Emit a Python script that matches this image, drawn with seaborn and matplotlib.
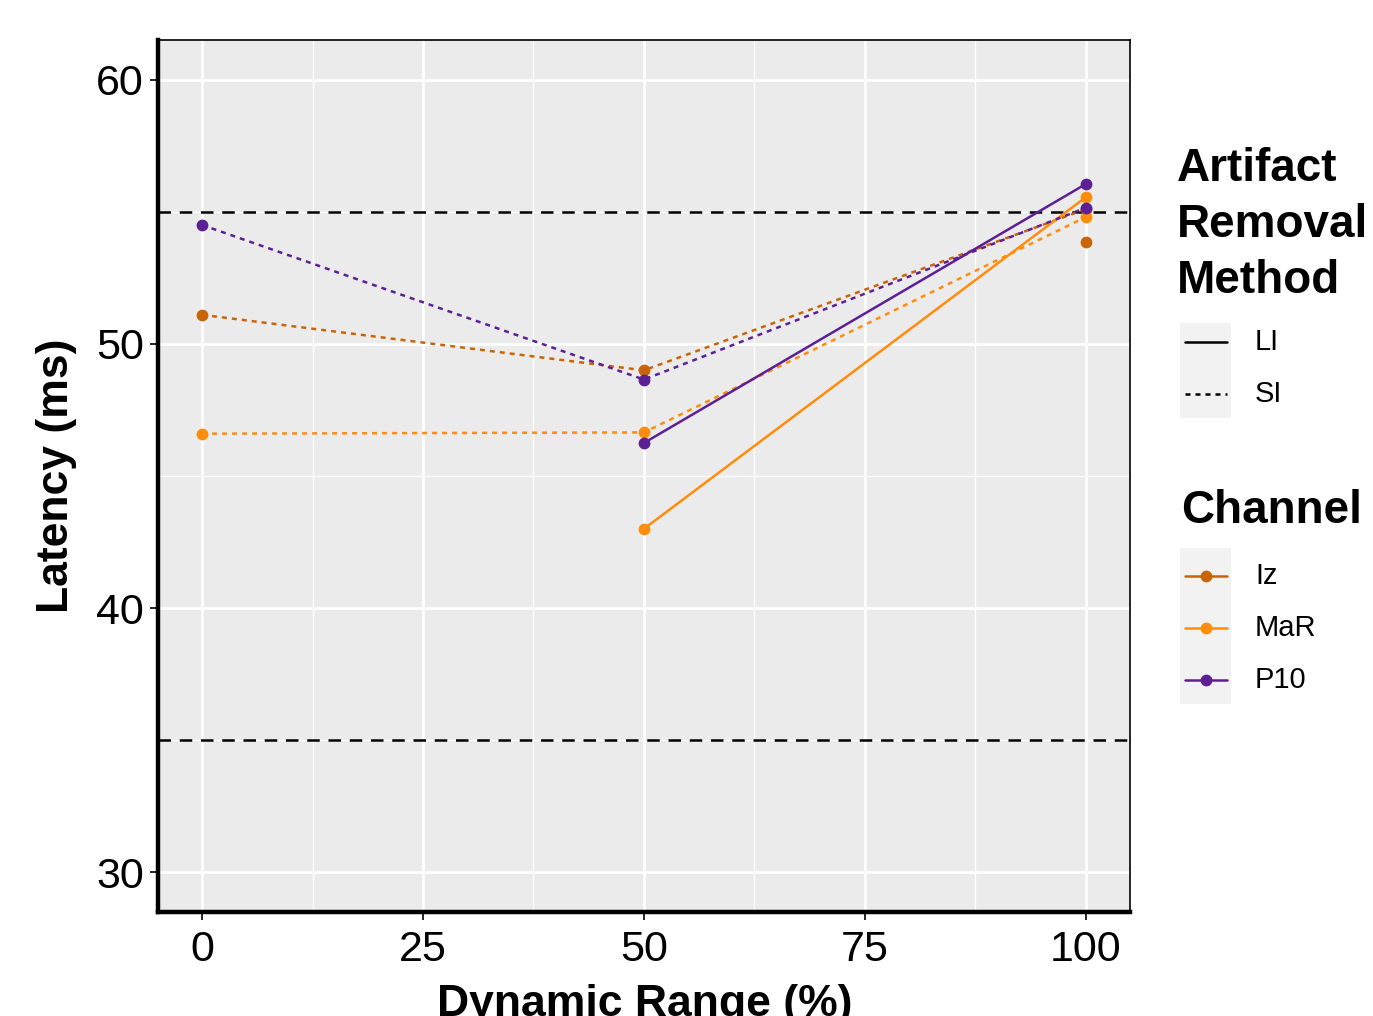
import pandas as pd
import seaborn as sns
import matplotlib.pyplot as plt
from matplotlib.lines import Line2D
from matplotlib.patches import Rectangle

# Data
channels = ['Iz', 'Iz', 'Iz', 'Iz',
            'MaR', 'MaR', 'MaR', 'MaR', 'MaR',
            'P10', 'P10', 'P10', 'P10', 'P10']
methods = ['SI', 'SI', 'SI', 'LI',
           'SI', 'SI', 'SI', 'LI', 'LI',
           'SI', 'SI', 'SI', 'LI', 'LI']
dyn_range = [0, 50, 100, 100,
             0, 50, 100, 50, 100,
             0, 50, 100, 50, 100]
latency = [51.1, 49.0, 55.1, 53.85,
           46.6, 46.65, 54.8, 43.0, 55.55,
           54.5, 48.65, 55.15, 46.25, 56.05]
ref_lines = [35, 55]

df = pd.DataFrame({'Channel': channels, 'Method': methods,
                   'Dynamic Range (%)': dyn_range, 'Latency (ms)': latency})

palette = {'Iz': '#C96508', 'MaR': '#FF8C0A', 'P10': '#5C2094'}

sns.set_theme(style='darkgrid', rc={'axes.facecolor': '#EBEBEB',
                                    'grid.color': 'white',
                                    'text.color': 'black',
                                    'axes.labelcolor': 'black'})
plt.rcParams['font.family'] = ['Liberation Sans', 'DejaVu Sans']

fig = plt.figure(figsize=(13.73, 10.16), dpi=100)
ax = fig.add_axes([0.115, 0.1024, 0.708, 0.8582])

sns.lineplot(data=df, x='Dynamic Range (%)', y='Latency (ms)', hue='Channel',
             style='Method', palette=palette, markers={'LI': 'o', 'SI': 'o'},
             dashes={'LI': '', 'SI': (2, 2)}, linewidth=1.8, markersize=8.5,
             markeredgewidth=0, legend=False, ax=ax, zorder=3)

for y in ref_lines:
    ax.axhline(y, color='black', lw=1.8, ls=(0, (5, 3.5)), zorder=2)

ax.set_xlim(-5, 105)
ax.set_ylim(28.5, 61.5)
ax.set_xticks([0, 25, 50, 75, 100])
ax.set_yticks([30, 40, 50, 60])
ax.set_xticks([12.5, 37.5, 62.5, 87.5], minor=True)
ax.set_yticks([35, 45, 55], minor=True)
ax.grid(which='major', color='white', lw=1.9)
ax.grid(which='minor', color='white', lw=0.9)
ax.tick_params(axis='both', which='major', labelsize=31, colors='black',
               length=6, width=1.2, direction='out')
ax.tick_params(axis='x', pad=7)
ax.tick_params(axis='y', pad=4)
ax.tick_params(which='minor', length=0)
ax.tick_params(bottom=True, left=True)

for side in ['left', 'bottom']:
    ax.spines[side].set_color('black')
    ax.spines[side].set_linewidth(3.2)
for side in ['top', 'right']:
    ax.spines[side].set_color('black')
    ax.spines[side].set_linewidth(1.2)

ax.set_xlabel('')
ax.set_ylabel('Latency (ms)', fontsize=32, fontweight='bold', labelpad=14)
fig.text(0.4695, 1 - 984 / 1016, 'Dynamic Range (%)', fontsize=32,
         fontweight='bold', ha='center', va='top')

# legend: method
fig.text(1177 / 1373, 1 - 147 / 1016, 'Artifact\nRemoval\nMethod', fontsize=33,
         fontweight='bold', ha='left', va='top', linespacing=1.36)
fig.add_artist(Rectangle((1180 / 1373, 1 - 418 / 1016), 51 / 1373, 95 / 1016,
                         transform=fig.transFigure, color='#F2F2F2', lw=0))
for i, (m, dash) in enumerate([('LI', '-'), ('SI', (0, (2, 2)))]):
    yy = 1 - (342 + 52 * i) / 1016
    fig.add_artist(Line2D([1185 / 1373, 1227 / 1373], [yy, yy], color='black',
                          lw=1.8, ls=dash, transform=fig.transFigure))
    fig.text(1255 / 1373, yy, m, fontsize=21, ha='left', va='center')

# legend: channel
fig.text(1181 / 1373, 1 - 489 / 1016, 'Channel', fontsize=33,
         fontweight='bold', ha='left', va='top')
fig.add_artist(Rectangle((1180 / 1373, 1 - 704 / 1016), 51 / 1373, 156 / 1016,
                         transform=fig.transFigure, color='#F2F2F2', lw=0))
for i, ch in enumerate(palette):
    yy = 1 - (576 + 52 * i) / 1016
    fig.add_artist(Line2D([1185 / 1373, 1227 / 1373], [yy, yy],
                          color=palette[ch], lw=1.8, transform=fig.transFigure))
    fig.add_artist(Line2D([1206 / 1373], [yy], color=palette[ch], marker='o',
                          markersize=8.5, markeredgewidth=0, lw=0,
                          transform=fig.transFigure))
    fig.text(1255 / 1373, yy, ch, fontsize=21, ha='left', va='center')

fig.savefig('out.png', dpi=100, facecolor='white')
